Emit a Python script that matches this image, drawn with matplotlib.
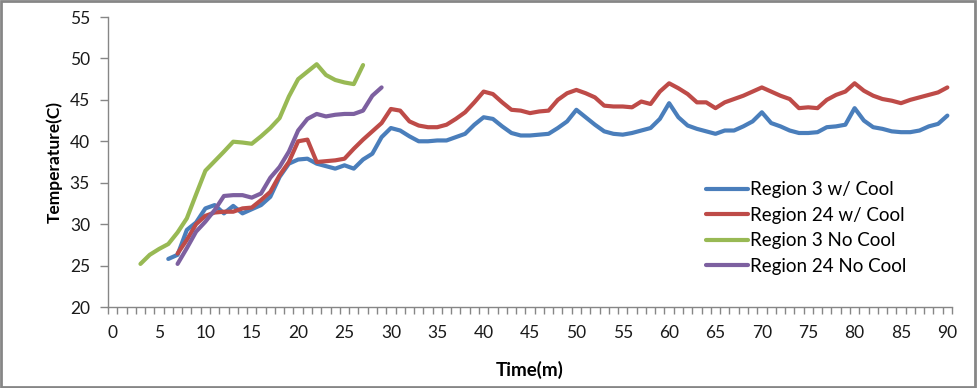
import matplotlib
matplotlib.use("Agg")
import matplotlib.pyplot as plt
import numpy as np
from matplotlib.patches import Rectangle

plt.rcParams['font.family'] = ['Lato', 'DejaVu Sans']

time_r3_cool_start = 6
region3_cool = [25.8, 26.3, 29.3, 30.2, 31.9, 32.3, 31.3, 32.2, 31.3, 31.8,
                32.3, 33.3, 35.7, 37.3, 37.8, 37.9, 37.3, 37.0, 36.7, 37.1,
                36.7, 37.8, 38.5, 40.5, 41.6, 41.3, 40.6, 40.0, 40.0, 40.1,
                40.1, 40.5, 40.9, 42.0, 42.9, 42.7, 41.8, 41.0, 40.7, 40.7,
                40.8, 40.9, 41.6, 42.4, 43.8, 42.9, 42.0, 41.2, 40.9, 40.8,
                41.0, 41.3, 41.6, 42.7, 44.6, 42.9, 41.9, 41.5, 41.2, 40.9,
                41.3, 41.3, 41.8, 42.4, 43.5, 42.2, 41.8, 41.3, 41.0, 41.0,
                41.1, 41.7, 41.8, 42.0, 44.0, 42.5, 41.7, 41.5, 41.2, 41.1,
                41.1, 41.3, 41.8, 42.1, 43.1]

time_r24_cool_start = 7
region24_cool = [26.45, 28.1, 30.0, 31.0, 31.4, 31.5, 31.5, 31.9, 32.0, 32.9,
                 33.9, 35.9, 37.5, 40.0, 40.2, 37.5, 37.6, 37.7, 37.9, 39.1,
                 40.2, 41.2, 42.2, 43.9, 43.7, 42.4, 41.9, 41.7, 41.7, 42.0,
                 42.7, 43.5, 44.7, 46.0, 45.7, 44.7, 43.8, 43.7, 43.4, 43.6,
                 43.7, 45.0, 45.8, 46.2, 45.8, 45.3, 44.3, 44.2, 44.2, 44.1,
                 44.8, 44.5, 46.0, 47.0, 46.4, 45.7, 44.7, 44.7, 44.0, 44.7,
                 45.1, 45.5, 46.0, 46.5, 46.0, 45.5, 45.1, 44.0, 44.1, 44.0,
                 45.0, 45.6, 46.0, 47.0, 46.1, 45.5, 45.1, 44.9, 44.6, 45.0,
                 45.3, 45.6, 45.9, 46.5]

time_r3_nocool_start = 3
region3_nocool = [25.2, 26.3, 27.0, 27.6, 29.0, 30.7, 33.6, 36.45, 37.6, 38.75,
                  39.95, 39.85, 39.7, 40.6, 41.6, 42.8, 45.4, 47.5, 48.4, 49.3,
                  48.0, 47.4, 47.1, 46.9, 49.2]

time_r24_nocool_start = 7
region24_nocool = [25.2, 27.1, 29.1, 30.3, 31.7, 33.4, 33.5, 33.5, 33.2, 33.7,
                   35.6, 36.9, 38.75, 41.3, 42.7, 43.3, 43.0, 43.2, 43.3, 43.3,
                   43.7, 45.5, 46.5]

labels = ["Region 3 w/ Cool", "Region 24 w/ Cool", "Region 3 No Cool", "Region 24 No Cool"]
colors = ["#4A7EBB", "#BE4B48", "#98B954", "#7D60A0"]
series = [(time_r3_cool_start, region3_cool), (time_r24_cool_start, region24_cool),
          (time_r3_nocool_start, region3_nocool), (time_r24_nocool_start, region24_nocool)]

fig = plt.figure(figsize=(9.77, 3.88), dpi=100)
ax = fig.add_axes([108/977, 1-307/388, (952-108)/977, (307-17)/388])

for (start, vals), lab, col in zip(series, labels, colors):
    t = np.arange(start, start + len(vals))
    ax.plot(t, vals, color=col, lw=3, label=lab, solid_joinstyle='round', solid_capstyle='round')

ax.set_xlim(-0.5, 90.5)
ax.set_ylim(20, 55)
ax.set_yticks(np.arange(20, 56, 5))
ax.set_xticks(np.arange(0, 91, 5))
ax.set_xticks(np.arange(-0.5, 91, 1), minor=True)
ax.tick_params(axis='x', which='major', length=0, pad=13, labelsize=12.5, colors='#1a1a1a')
ax.tick_params(axis='x', which='minor', length=5, width=1, color='#868686', direction='out')
ax.tick_params(axis='y', which='major', length=6, width=1, color='#868686', pad=7,
               labelsize=12.5, labelcolor='#1a1a1a')
for s in ['top', 'right']:
    ax.spines[s].set_visible(False)
for s in ['left', 'bottom']:
    ax.spines[s].set_color('#868686')
    ax.spines[s].set_linewidth(1)

ax.set_xlabel("Time(m)", fontsize=13.5, fontweight='bold', labelpad=14)
ax.set_ylabel("Temperature(C)", fontsize=12.5, fontweight='bold', labelpad=5)

fig.legend(loc='center left', bbox_to_anchor=(697/977, 1-228/388), frameon=False,
           fontsize=13.5, handlelength=2.2, handletextpad=0.15, labelspacing=0.45, borderpad=0)

fig.patches.append(Rectangle((0.001, 0.002), 0.997, 0.996, transform=fig.transFigure,
                             fill=False, edgecolor='#868686', lw=2))

fig.savefig("out.png", dpi=100)
